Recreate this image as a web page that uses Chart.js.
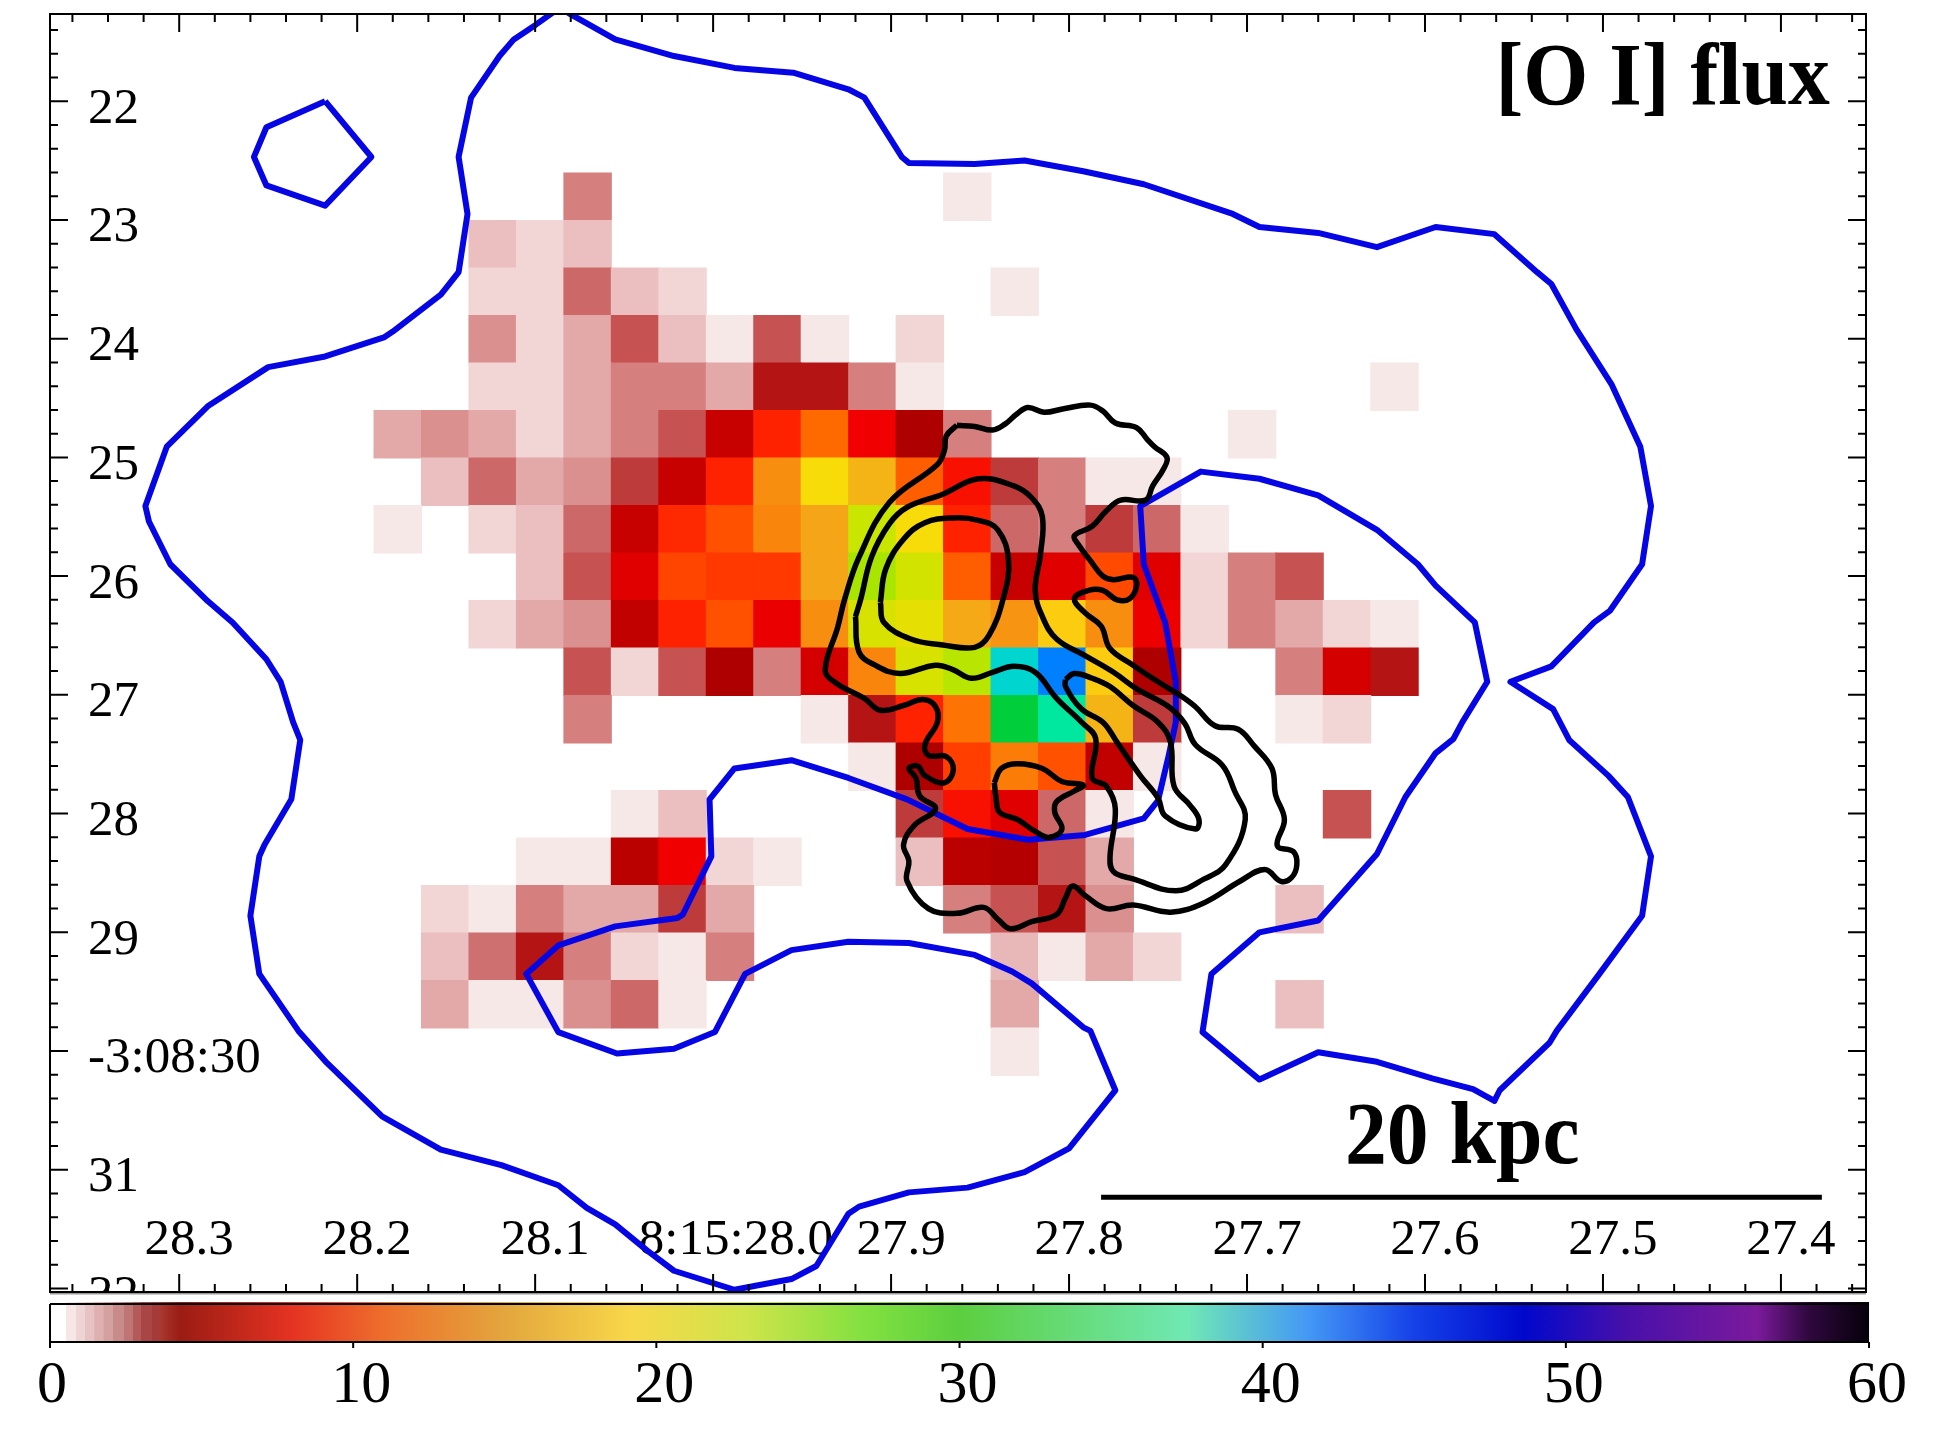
<!DOCTYPE html>
<html>
<head>
<meta charset="utf-8">
<style>body{margin:0;background:#fff}canvas{display:block}</style>
<script src="https://cdn.jsdelivr.net/npm/chart.js@4"></script>
</head>
<body>
<canvas id="flux" width="1949" height="1446"></canvas>
<script>
// tick labels
const raTicks = [28.3, 28.2, 28.1, 28.0, 27.9, 27.8, 27.7, 27.6, 27.5, 27.4];
const raLabels = ['28.3', '28.2', '28.1', '8:15:28.0', '27.9', '27.8', '27.7', '27.6', '27.5', '27.4'];
const decTicks = [22, 23, 24, 25, 26, 27, 28, 29, 30, 31, 32];
const decLabels = ['22', '23', '24', '25', '26', '27', '28', '29', '-3:08:30', '31', '32'];
const cbarTicks = [0, 10, 20, 30, 40, 50, 60];

// [O I] flux per spaxel, row by row from the top, column by column from the left
const fluxRows = [
  [0,0,0,0,2.3,0,0,0,0,0,0,0,.8,0,0,0,0,0,0,0,0,0],
  [0,0,1.4,1.1,1.4,0,0,0,0,0,0,0,0,0,0,0,0,0,0,0,0,0],
  [0,0,1.1,1.1,2.6,1.4,1.1,0,0,0,0,0,0,.8,0,0,0,0,0,0,0,0],
  [0,0,2,1.1,1.7,3,1.4,.8,3,.8,0,1.1,0,0,0,0,0,0,0,0,0,0],
  [0,0,1.1,1.1,1.7,2.3,2.3,1.7,3.7,3.7,2.3,.8,0,0,0,0,0,0,0,0,0,.8],
  [1.7,2,1.7,1.1,1.7,2.3,3,5,8,11,7,4.2,2.3,0,0,0,0,0,.8,0,0,0],
  [0,1.4,2.6,1.7,2,3.3,5,8,13,19.5,17,10.5,7.5,3.3,2.3,.8,.8,0,0,0,0,0],
  [.8,0,1.1,1.4,2.6,5,8.3,10,12.5,15,23,19.5,8,2.6,2.3,3.3,2.6,.8,0,0,0,0],
  [0,0,0,1.4,3,6,9.5,9,9,15,25,22,10.5,5,6,9.7,6,1.1,2.3,3,0,0],
  [0,0,1.1,1.7,2,4.8,8,10,6.6,13,21.5,20.5,15.5,13.5,18,13,6.8,1.1,2.3,1.7,1.1,.8],
  [0,0,0,0,3,1.1,3,4.2,2.3,5.5,12.5,21.5,24,38,42,18,4.2,0,0,2.3,5.5,3.7],
  [0,0,0,0,2.3,0,0,0,0,.8,3.7,8,11.5,30,35,17,3.3,0,0,.8,1.1,0],
  [0,0,0,0,0,0,0,0,0,0,.8,4.2,9.2,12,10,4.8,.8,0,0,0,0,0],
  [0,0,0,0,0,.8,1.4,0,0,0,0,3.3,7.5,6,2.6,.8,0,0,0,0,3,0],
  [0,0,0,.8,.8,4.6,7,1.1,.8,0,0,1.4,4.6,4.4,3,1.7,0,0,0,0,0,0],
  [0,1.1,.8,2.3,1.7,1.7,3.3,1.7,0,0,0,0,2.3,3,3.7,2,0,0,0,1.4,0,0],
  [0,1.4,2.5,3.7,2.3,1.1,.8,2.3,0,0,0,0,0,1.5,.8,1.7,1.1,0,0,0,0,0],
  [0,1.7,.8,.8,2,2.6,.8,0,0,0,0,0,0,1.7,0,0,0,0,0,1.4,0,0],
  [0,0,0,0,0,0,0,0,0,0,0,0,0,.8,0,0,0,0,0,0,0,0]
];
const firstRa = 28.1772, raStep = 0.02667;
const firstDec = 22.805, decStep = 0.4;

// blue contours, [RA seconds, Dec arcsec]
const blueOuter = [
  [28.086,21.21],[28.100,21.36],[28.112,21.48],[28.120,21.62],[28.136,21.97],[28.143,22.47],[28.138,22.95],[28.143,23.44],
  [28.153,23.63],[28.180,23.94],[28.185,23.99],[28.218,24.15],[28.250,24.24],[28.284,24.57],[28.307,24.91],[28.319,25.41],
  [28.317,25.54],[28.305,25.90],[28.284,26.21],[28.270,26.39],[28.251,26.70],[28.243,26.89],[28.236,27.23],[28.232,27.38],
  [28.237,27.88],[28.252,28.26],[28.255,28.36],[28.260,28.86],[28.255,29.35],[28.233,29.83],[28.217,30.10],[28.186,30.55],
  [28.153,30.83],[28.119,30.96],[28.087,31.13],[28.071,31.32],[28.055,31.46],[28.037,31.68],[28.022,31.85],[27.988,32.01],
  [27.956,31.92],[27.942,31.81],[27.924,31.37],[27.918,31.31],[27.890,31.19],[27.857,31.15],[27.825,31.02],[27.800,30.82],
  [27.774,30.33],[27.788,29.83],[27.792,29.80],[27.821,29.43],[27.832,29.33],[27.853,29.19],[27.890,29.09],[27.924,29.08],
  [27.956,29.15],[27.982,29.35],[27.999,29.84],[28.022,29.98],[28.054,30.02],[28.087,29.84],[28.105,29.35],[28.087,29.11],
  [28.055,28.95],[28.020,28.88],[28.017,28.85],[28.001,28.36],[28.002,27.88],[27.988,27.62],[27.956,27.55],[27.924,27.70],
  [27.891,27.88],[27.857,28.13],[27.823,28.22],[27.791,28.18],[27.758,28.04],[27.750,27.89],[27.744,27.51],[27.740,27.23],
  [27.740,26.89],[27.746,26.39],[27.758,25.90],[27.760,25.41],[27.726,25.12],[27.693,25.18],[27.660,25.32],[27.627,25.61],
  [27.604,25.90],[27.594,26.08],[27.572,26.39],[27.565,26.89],[27.579,27.23],[27.584,27.37],[27.594,27.49],[27.611,27.86],
  [27.627,28.34],[27.660,28.90],[27.693,29.00],[27.720,29.35],[27.725,29.84],[27.693,30.24],[27.660,30.01],[27.627,30.09],
  [27.596,30.23],[27.573,30.32],[27.561,30.42],[27.558,30.33],[27.530,29.93],[27.526,29.83],[27.502,29.35],[27.478,28.86],
  [27.473,28.36],[27.486,27.86],[27.497,27.68],[27.519,27.38],[27.528,27.12],[27.552,26.89],[27.529,26.76],[27.505,26.39],
  [27.496,26.29],[27.478,25.90],[27.473,25.41],[27.479,24.91],[27.495,24.39],[27.515,23.92],[27.529,23.54],[27.537,23.44],
  [27.561,23.12],[27.594,23.06],[27.627,23.23],[27.660,23.11],[27.693,23.06],[27.708,22.95],[27.758,22.70],[27.792,22.59],
  [27.825,22.50],[27.853,22.53],[27.890,22.52],[27.894,22.47],[27.915,21.97],[27.924,21.90],[27.955,21.76],[27.988,21.72],
  [28.022,21.62],[28.055,21.48],[28.081,21.26],[28.086,21.21]
];
const blueIsland = [[28.218,22.00],[28.251,22.22],[28.258,22.47],[28.251,22.71],[28.218,22.88],[28.192,22.47],[28.218,22.00]];

// black contours
const blackOuter = [
  [27.863,24.73],[27.853,24.74],[27.843,24.77],[27.836,24.72],[27.829,24.63],[27.823,24.58],[27.814,24.62],[27.803,24.59],
  [27.788,24.56],[27.781,24.61],[27.774,24.71],[27.762,24.75],[27.756,24.85],[27.752,24.91],[27.745,25.00],[27.747,25.10],
  [27.753,25.24],[27.757,25.36],[27.771,25.36],[27.779,25.45],[27.787,25.58],[27.797,25.66],[27.795,25.73],[27.788,25.87],
  [27.781,26.00],[27.775,26.03],[27.764,26.01],[27.762,26.08],[27.766,26.19],[27.773,26.20],[27.781,26.12],[27.789,26.12],
  [27.797,26.19],[27.791,26.31],[27.782,26.42],[27.777,26.61],[27.764,26.75],[27.750,26.89],[27.738,27.00],[27.729,27.10],
  [27.718,27.26],[27.705,27.29],[27.696,27.43],[27.686,27.62],[27.684,27.84],[27.679,28.05],[27.683,28.27],[27.674,28.32],
  [27.672,28.43],[27.675,28.54],[27.681,28.57],[27.690,28.47],[27.704,28.57],[27.724,28.75],[27.743,28.83],[27.764,28.77],
  [27.779,28.80],[27.791,28.69],[27.798,28.61],[27.802,28.71],[27.807,28.85],[27.821,28.91],[27.833,28.97],[27.840,28.89],
  [27.848,28.79],[27.863,28.84],[27.879,28.80],[27.891,28.57],[27.890,28.40],[27.893,28.26],[27.887,28.10],[27.875,27.96],
  [27.884,27.85],[27.886,27.70],[27.890,27.62],[27.885,27.60],[27.881,27.68],[27.870,27.74],[27.865,27.63],[27.869,27.52],
  [27.879,27.51],[27.881,27.42],[27.874,27.23],[27.875,27.10],[27.882,27.04],[27.893,27.09],[27.906,27.13],[27.915,27.03],
  [27.931,26.90],[27.937,26.79],[27.930,26.43],[27.926,26.19],[27.918,25.84],[27.901,25.38],[27.874,25.06],[27.870,24.94],
  [27.869,24.82],[27.863,24.73]
];
const blackMiddle = [
  [27.920,26.34],[27.917,26.19],[27.911,25.84],[27.901,25.56],[27.891,25.42],[27.871,25.31],[27.851,25.18],[27.831,25.24],
  [27.821,25.34],[27.815,25.50],[27.816,25.81],[27.819,26.12],[27.815,26.34],[27.807,26.53],[27.791,26.67],[27.775,26.81],
  [27.762,26.95],[27.744,27.10],[27.735,27.24],[27.729,27.42],[27.714,27.59],[27.707,27.81],[27.701,28.05],[27.712,28.43],
  [27.724,28.55],[27.740,28.65],[27.764,28.55],[27.775,28.49],[27.777,28.37],[27.774,27.96],[27.779,27.77],[27.787,27.70],
  [27.785,27.37],[27.793,27.23],[27.807,27.03],[27.819,26.81],[27.831,26.76],[27.843,26.81],[27.855,26.86],[27.865,26.79],
  [27.875,26.75],[27.895,26.82],[27.909,26.75],[27.918,26.64],[27.920,26.34]
];
const blackCore = [
  [27.906,26.22],[27.903,25.94],[27.893,25.69],[27.881,25.55],[27.865,25.51],[27.851,25.53],[27.840,25.61],[27.834,25.87],
  [27.837,26.19],[27.845,26.50],[27.853,26.60],[27.871,26.58],[27.889,26.53],[27.904,26.39],[27.906,26.22]
];
const blackSouth = [
  [27.842,27.74],[27.838,27.62],[27.829,27.58],[27.815,27.62],[27.804,27.73],[27.792,27.76],[27.797,27.81],[27.807,27.90],
  [27.808,27.99],[27.804,28.13],[27.811,28.20],[27.819,28.15],[27.829,28.05],[27.839,27.99],[27.841,27.87],[27.842,27.74]
];
const blackTail = [
  [27.802,26.87],[27.797,26.82],[27.787,26.86],[27.777,26.93],[27.764,27.09],[27.750,27.23],[27.743,27.40],[27.741,27.77],
  [27.732,27.93],[27.727,28.05],[27.729,28.13],[27.746,28.02],[27.750,27.87],[27.760,27.68],[27.773,27.40],[27.781,27.23],
  [27.793,27.12],[27.802,26.93],[27.802,26.87]
];
const scaleBar = [[27.782,31.23],[27.377,31.23]];

// colour of a spaxel for a given flux
const cellValues = [0,.8,1.1,1.4,1.7,2,2.3,2.6,3,3.3,3.7,4.2,5,6,7,8,9.5,11,13,15,17,18,19.5,21,23,25,30,35,38,42];
const cellColors = ['#ffffff','#f7e8e8','#f2d5d5','#ebbfbf','#e3a9a9','#db9090','#d57f7f','#cc6868','#c75252','#bd3b3b',
  '#b51414','#af0000','#c70000','#e00000','#f00000','#ff2200','#ff4500','#ff6a00','#f88e10','#f5a518','#f5b415','#fccc10',
  '#f7dc0a','#dce000','#c8e600','#a8e600','#00ce3a','#00e8a0','#00d5d0','#0080ff'];
// colour bar stops
const barValues = [0,.53,.54,.85,.86,1.15,1.16,1.46,1.47,1.76,1.77,2.07,2.08,2.44,2.45,2.73,2.74,3,3.01,3.37,3.38,3.6,3.61,4,4.3,8,
  11,15,19.2,23,27,30,37.5,41.5,45,48.6,52,56.3,58,60];
const barColors = ['#ffffff','#ffffff','#f6e6e6','#f6e6e6','#eed4d4','#eed4d4','#e6c2c2','#e6c2c2','#deb0b0','#deb0b0',
  '#d5a0a0','#d5a0a0','#c98a8a','#c98a8a','#c07575','#c07575','#b55a5a','#b55a5a','#aa4545','#aa4545','#a43a3a','#a43a3a',
  '#a83a32','#a02820','#9b1c14','#e53322','#ee6e2c','#e3a63d','#f8d84a','#cee44a','#80e040','#5ccf3f','#70e8b4','#4498f5','#1541e8',
  '#0008cc','#4810aa','#7b1a9c','#30083f','#05000a'];

function hexRgb(h) {
  return [parseInt(h.slice(1, 3), 16), parseInt(h.slice(3, 5), 16), parseInt(h.slice(5, 7), 16)];
}
function fluxColor(v) {
  let i = 0;
  while (i < cellValues.length - 2 && v > cellValues[i + 1]) i++;
  const t = Math.min(1, (v - cellValues[i]) / (cellValues[i + 1] - cellValues[i]));
  const a = hexRgb(cellColors[i]), b = hexRgb(cellColors[i + 1]);
  return 'rgb(' + a.map((c, k) => Math.round(c + (b[k] - c) * t)).join(',') + ')';
}

const cells = [];
fluxRows.forEach((row, r) => row.forEach((v, c) => {
  if (v > 0) cells.push({x: firstRa - c * raStep, y: firstDec + r * decStep, v: v});
}));

function toPoints(list) {
  return list.map(p => ({x: p[0], y: p[1]}));
}
function contour(list, color, tension, order, width) {
  return {
    data: toPoints(list), showLine: true, pointRadius: 0, borderColor: color,
    borderWidth: width, tension: tension, order: order, borderJoinStyle: 'round'
  };
}

// ticks, frame, colour bar and the two captions
const extras = {
  id: 'extras',
  afterDraw(chart) {
    const c = chart.ctx, a = chart.chartArea;
    const x = chart.scales.x, y = chart.scales.y, cb = chart.scales.cbar;
    c.save();
    // label for 32 is cut by the frame
    c.fillStyle = '#fff';
    c.fillRect(0, a.bottom, 1949, 14);

    c.strokeStyle = '#000';
    c.lineWidth = 2;
    c.beginPath();
    function mark(x1, y1, x2, y2) { c.moveTo(x1, y1); c.lineTo(x2, y2); }
    for (let i = 0; i <= 50; i++) {
      const px = x.getPixelForValue(28.36 - i * 0.02);
      const len = i % 5 === 3 ? 18 : 8;
      mark(px, a.top, px, a.top + len);
      mark(px, a.bottom, px, a.bottom - len);
    }
    for (let i = 0; i <= 53; i++) {
      const py = y.getPixelForValue(21.4 + i * 0.2);
      const len = i % 5 === 3 ? 18 : 8;
      mark(a.left, py, a.left + len, py);
      mark(a.right, py, a.right - len, py);
    }
    c.stroke();
    c.strokeStyle = '#999';
    c.lineWidth = 3;
    c.beginPath();
    mark(a.left, a.bottom + 1, a.right, a.bottom + 1);
    c.stroke();
    c.strokeStyle = '#000';
    c.lineWidth = 2;
    c.strokeRect(a.left, a.top, a.right - a.left, a.bottom - a.top);

    // colour bar
    const x0 = cb.getPixelForValue(0), x1 = cb.getPixelForValue(60);
    const barTop = a.bottom + 10, barBottom = a.bottom + 50;
    const grad = c.createLinearGradient(x0, 0, x1, 0);
    barValues.forEach((v, i) => grad.addColorStop(v / 60, barColors[i]));
    c.fillStyle = grad;
    c.fillRect(x0, barTop, x1 - x0, barBottom - barTop);
    c.lineWidth = 2;
    c.beginPath();
    mark(x0, barTop + 2, x1, barTop + 2);
    mark(x0, barBottom, x1, barBottom);
    mark(x0, barTop + 2, x0, barBottom);
    cbarTicks.forEach(v => {
      const px = cb.getPixelForValue(v);
      mark(px, barBottom, px, barBottom + 6);
    });
    c.stroke();

    // captions, the bold face is a little condensed in the reference
    c.fillStyle = '#000';
    c.font = 'bold 88px "Liberation Serif"';
    c.textBaseline = 'alphabetic';
    c.textAlign = 'right';
    c.save();
    c.translate(x.getPixelForValue(27.3725), y.getPixelForValue(22.02));
    c.scale(0.95, 1);
    c.fillText('[O I] flux', 0, 0);
    c.restore();
    c.textAlign = 'center';
    c.save();
    c.translate(x.getPixelForValue(27.579), y.getPixelForValue(30.94));
    c.scale(0.95, 1);
    c.fillText('20 kpc', 0, 0);
    c.restore();
    c.restore();
  }
};

function setTicks(list) {
  return scale => { scale.ticks = list.map(v => ({value: v})); };
}
// no room is reserved for the labels, the frame stays where it is
function noPadding(s) {
  s.paddingLeft = s.paddingRight = s.paddingTop = s.paddingBottom = 0;
}

new Chart(document.getElementById('flux'), {
  type: 'scatter',
  data: {
    datasets: [
      {
        data: cells, order: 5, showLine: false, pointStyle: 'rect', pointBorderWidth: 0,
        pointRadius: c => {
          const s = c.chart.scales.x;
          return (Math.abs(s.getPixelForValue(firstRa) - s.getPixelForValue(firstRa - raStep)) / 2 + 0.5) * Math.SQRT2;
        },
        pointBackgroundColor: c => c.raw ? fluxColor(c.raw.v) : '#fff'
      },
      contour(blueOuter, '#0606e4', 0, 4, 6),
      contour(blueIsland, '#0606e4', 0, 4, 6),
      contour(blackOuter, '#000', 0.4, 2, 5.5),
      contour(blackMiddle, '#000', 0.4, 2, 5.5),
      contour(blackCore, '#000', 0.4, 2, 5.5),
      contour(blackSouth, '#000', 0.4, 2, 5.5),
      contour(blackTail, '#000', 0.4, 2, 5.5),
      contour(scaleBar, '#000', 0, 1, 5)
    ]
  },
  options: {
    responsive: false,
    animation: false,
    events: [],
    layout: {autoPadding: false, padding: {left: 50, right: 83, top: 14, bottom: 0}},
    plugins: {legend: {display: false}, tooltip: {enabled: false}},
    scales: {
      x: {
        type: 'linear', position: 'bottom', reverse: true, min: 27.3522, max: 28.3726, weight: 0,
        afterBuildTicks: setTicks(raTicks),
        afterFit: s => { s.height = 0; noPadding(s); },
        grid: {drawOnChartArea: false, drawTicks: false},
        border: {display: false},
        ticks: {
          mirror: true, padding: 21, labelOffset: 10, autoSkip: false, maxRotation: 0, minRotation: 0,
          color: '#000', font: {family: '"Liberation Serif"', size: 51},
          callback: v => {
            const l = raLabels[raTicks.indexOf(v)];
            return l.length > 4 ? '\u2002' + l : l;
          }
        }
      },
      y: {
        type: 'linear', position: 'left', reverse: true, min: 21.266, max: 32.029,
        afterBuildTicks: setTicks(decTicks),
        afterFit: s => { s.width = 0; noPadding(s); },
        grid: {drawOnChartArea: false, drawTicks: false},
        border: {display: false},
        ticks: {
          mirror: true, padding: 38, labelOffset: 8, autoSkip: false,
          color: '#000', font: {family: '"Liberation Serif"', size: 51},
          callback: v => decLabels[decTicks.indexOf(v)]
        }
      },
      cbar: {
        type: 'linear', axis: 'x', position: 'bottom', min: 0, max: 59.9, weight: 1,
        afterBuildTicks: setTicks(cbarTicks),
        afterFit: s => { s.height = 154; noPadding(s); },
        grid: {drawOnChartArea: false, drawTicks: false},
        border: {display: false},
        ticks: {
          padding: 58, labelOffset: 8, autoSkip: false, maxRotation: 0, minRotation: 0,
          color: '#000', font: {family: '"Liberation Serif"', size: 60},
          callback: v => v === 0 ? '0\u2009' : String(v)
        }
      }
    }
  },
  plugins: [extras]
});
</script>
</body>
</html>
